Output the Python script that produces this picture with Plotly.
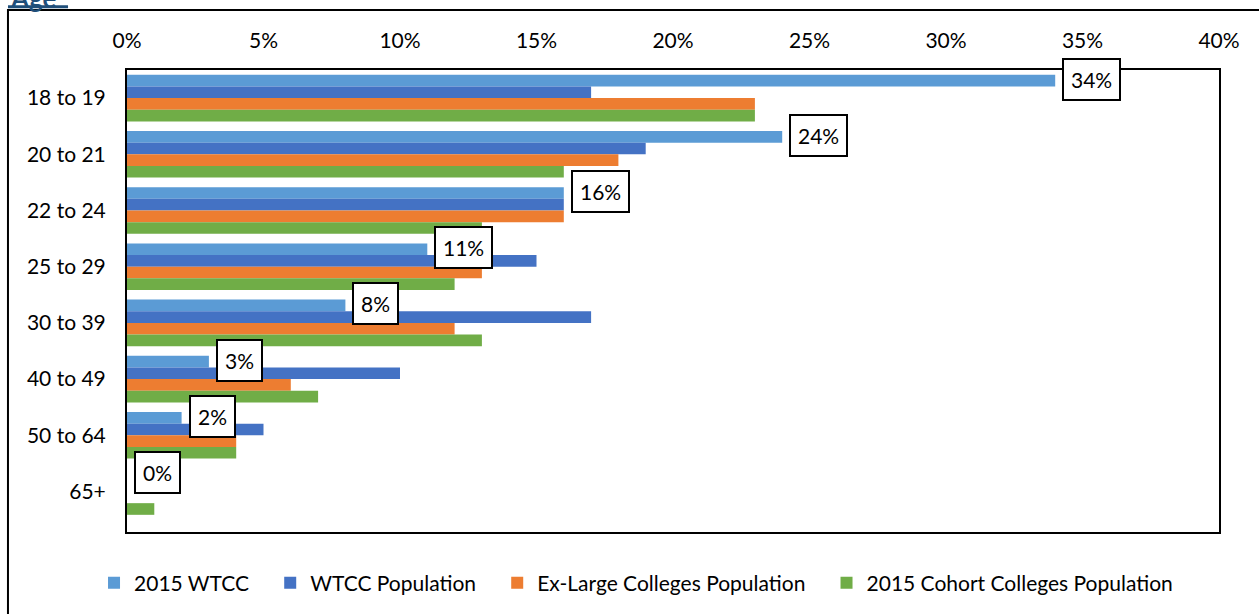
import plotly.graph_objects as go

categories = ["18 to 19", "20 to 21", "22 to 24", "25 to 29", "30 to 39", "40 to 49", "50 to 64", "65+"]
wtcc_2015 = [34, 24, 16, 11, 8, 3, 2, 0]
wtcc_population = [17, 19, 16, 15, 17, 10, 5, 0]
ex_large_population = [23, 18, 16, 13, 12, 6, 4, 0]
cohort_population = [23, 16, 13, 12, 13, 7, 4, 1]
wtcc_labels = ["34%", "24%", "16%", "11%", "8%", "3%", "2%", "0%"]

series = [
    ("2015 WTCC", wtcc_2015, "#5B9BD5"),
    ("WTCC Population", wtcc_population, "#4472C4"),
    ("Ex-Large Colleges Population", ex_large_population, "#ED7D31"),
    ("2015 Cohort Colleges Population", cohort_population, "#70AD47"),
]

FONT = "Lato"
PAD = "\u00a0" * 3  # widen the gap between legend entries

fig = go.Figure()
for name, vals, color in series:
    fig.add_trace(go.Bar(
        x=vals, y=categories, orientation="h", name=name + PAD,
        marker=dict(color=color, line=dict(width=0)),
    ))

# boxed value labels for the 2015 WTCC bars
for cat, val, lab in zip(categories, wtcc_2015, wtcc_labels):
    fig.add_annotation(
        x=val, y=cat, xref="x", yref="y", text=lab, showarrow=False,
        xanchor="left", xshift=7, yshift=19,
        bordercolor="black", borderwidth=2, borderpad=7, bgcolor="white",
        font=dict(size=21, color="black", family=FONT),
    )

# section title that is cut off at the top of the image
fig.add_annotation(
    x=-0.109, y=1.1339, xref="paper", yref="paper", xanchor="left", yanchor="bottom",
    text="<b>Age</b>", showarrow=False, yshift=-8,
    font=dict(size=26, color="#1F4E79", family=FONT),
)
fig.add_shape(type="rect", xref="paper", yref="paper",
              x0=-0.109, x1=-0.054, y0=1.1339, y1=1.1404,
              fillcolor="#1F4E79", line=dict(width=0))

# outer chart-area border
fig.add_shape(type="rect", xref="paper", yref="paper",
              x0=-0.109, x1=1.15, y0=-0.2, y1=1.1296,
              line=dict(color="black", width=2))

fig.update_layout(
    width=1259, height=614,
    margin=dict(l=127, r=40, t=70, b=81),
    paper_bgcolor="white", plot_bgcolor="white",
    barmode="group", bargap=0.17, bargroupgap=0,
    font=dict(family=FONT, size=21, color="black"),
    xaxis=dict(
        side="top", range=[0, 40], dtick=5, ticksuffix="%",
        showgrid=False, zeroline=False, ticks="", ticklabelstandoff=12,
        showline=True, linecolor="black", linewidth=2, mirror=True,
    ),
    yaxis=dict(
        autorange="reversed", showgrid=False, ticks="", ticklabelstandoff=15,
        showline=True, linecolor="black", linewidth=2, mirror=True,
    ),
    legend=dict(
        orientation="h", x=-0.0302, y=-0.108, xanchor="left", yanchor="middle",
        font=dict(size=21, family=FONT), traceorder="normal",
    ),
)

fig.write_html("out.html", config={"displayModeBar": False},
               post_script="document.body.style.margin='0';")
